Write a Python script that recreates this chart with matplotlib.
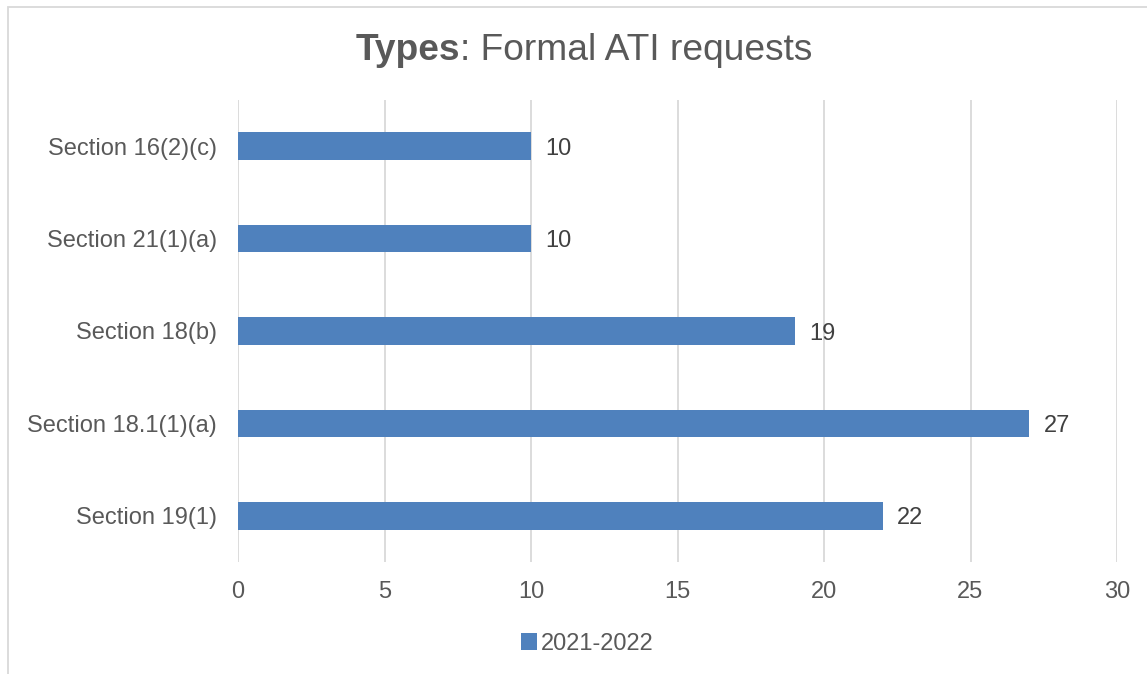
import matplotlib.pyplot as plt
from matplotlib.patches import Rectangle

plt.rcParams['font.family'] = ['Liberation Sans', 'DejaVu Sans']

categories = ['Section 19(1)', 'Section 18.1(1)(a)', 'Section 18(b)',
              'Section 21(1)(a)', 'Section 16(2)(c)']
values = [22, 27, 19, 10, 10]
series_name = '2021-2022'

fig = plt.figure(figsize=(11.47, 6.74), dpi=100)
ax = fig.add_axes([238 / 1147, 1 - 562 / 674, (1117 - 238) / 1147, (562 - 100) / 674])

bars = ax.barh(categories, values, height=0.3, color='#4F81BD', label=series_name, zorder=3)
for b, v in zip(bars, values):
    ax.text(b.get_width() + 0.5, b.get_y() + b.get_height() / 2, str(v),
            va='center_baseline', ha='left', fontsize=17, color='#404040')

ax.set_xlim(0, 30)
ax.set_ylim(-0.5, 4.5)
ax.set_xticks(range(0, 31, 5))
ax.grid(axis='x', color='#D9D9D9', linewidth=1.3, zorder=0)
for s in ax.spines.values():
    s.set_visible(False)
ax.tick_params(length=0, labelsize=17, colors='#595959')
ax.tick_params(axis='x', pad=14)
ax.tick_params(axis='y', pad=15)
for lbl in ax.get_yticklabels():
    lbl.set_verticalalignment('center_baseline')

# title: bold "Types" followed by regular text
t1 = fig.text(356 / 1147, 1 - 51 / 674, 'Types', ha='left', va='center',
              fontsize=26.7, color='#595959', fontweight='bold')
fig.canvas.draw()
bb = t1.get_window_extent()
fig.text(bb.x1 / fig.bbox.width, 1 - 51 / 674, ': Formal ATI requests', ha='left', va='center',
         fontsize=26.7, color='#595959')

fig.legend(loc='center', bbox_to_anchor=(587 / 1147, 1 - 644 / 674), frameon=False,
           fontsize=17, labelcolor='#595959', handlelength=0.7, handleheight=0.7, handletextpad=0.15)

fig.patches.append(Rectangle((8 / 1147, -0.05), 1.1, 1 - 7 / 674 + 0.05, transform=fig.transFigure,
                             fill=False, edgecolor='#D9D9D9', linewidth=1.3))

fig.savefig('out.png', dpi=100)
